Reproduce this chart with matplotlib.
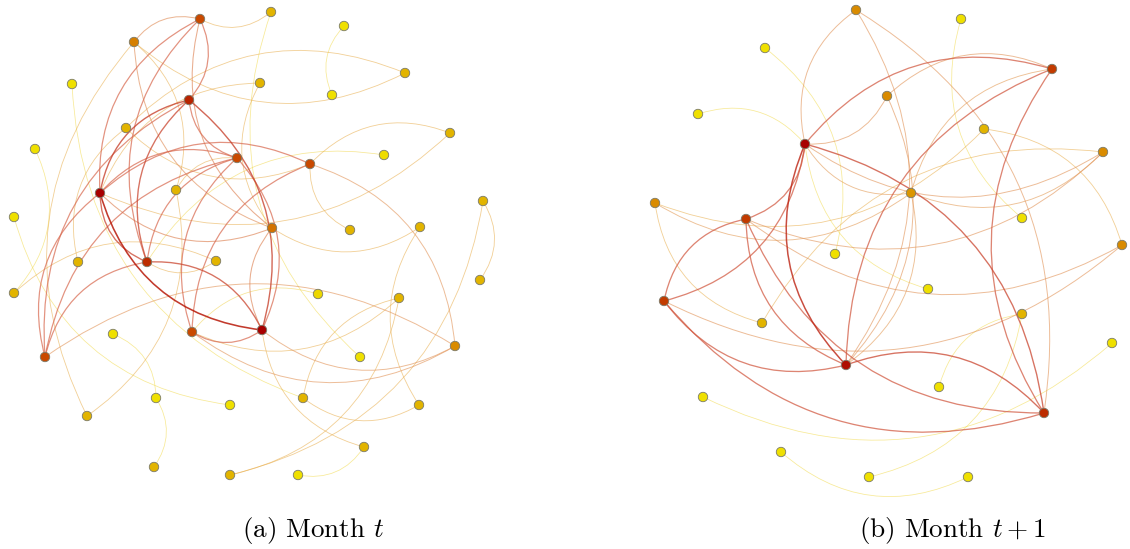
import numpy as np
import matplotlib
matplotlib.use("Agg")
import matplotlib.pyplot as plt
from matplotlib.path import Path
from matplotlib.patches import PathPatch
from matplotlib.colors import LinearSegmentedColormap

# ---------------- Panel (a): Month t ----------------
a_x = [200, 271, 134, 344, 405, 332, 260, 72, 189, 126, 450, 35, 237, 384, 310, 176, 100, 483, 14, 272,
       350, 420, 78, 147, 216, 14, 480, 318, 399, 192, 262, 113, 45, 455, 360, 156, 230, 303, 87, 419,
       364, 154, 230, 298]
a_y = [19, 12, 42, 26, 73, 95, 83, 84, 100, 128, 133, 149, 158, 155, 164, 190, 193, 201, 217, 228,
       230, 227, 262, 262, 261, 293, 280, 294, 298, 332, 330, 334, 357, 346, 357, 398, 405, 398, 416, 405,
       447, 467, 475, 475]
a_level = [0.75, 0.3, 0.55, 0.03, 0.3, 0.03, 0.3, 0.03, 0.88, 0.3, 0.3, 0.03, 0.75, 0.05, 0.75, 0.3, 1.0, 0.3, 0.03, 0.6,
           0.3, 0.3, 0.3, 0.85, 0.3, 0.3, 0.3, 0.08, 0.3, 0.75, 1.0, 0.03, 0.75, 0.5, 0.03, 0.03, 0.03, 0.3, 0.3, 0.3,
           0.3, 0.3, 0.3, 0.03]
a_edges = [(1, 3), (1, 2), (9, 1), (1, 17), (1, 24), (1, 20),
           (16, 3), (3, 39), (3, 5), (3, 20),
           (2, 35), (4, 6), (5, 10), (7, 20), (7, 17),
           (8, 38), (10, 23), (10, 15), (11, 15), (17, 11), (26, 12), (14, 24),
           (15, 30), (15, 21), (34, 15), (15, 17),
           (9, 17), (13, 17), (17, 24), (17, 33), (17, 31), (17, 20),
           (9, 24), (9, 13), (31, 9), (9, 33),
           (13, 24), (31, 13), (13, 33), (13, 30),
           (20, 31), (31, 24), (24, 33), (24, 25),
           (30, 31), (30, 29), (30, 34), (31, 34), (31, 41), (34, 33),
           (27, 18), (43, 18), (43, 29), (22, 40), (28, 30), (36, 32), (42, 36), (38, 40), (44, 41),
           (19, 37), (25, 26), (39, 16), (29, 38), (13, 16), (20, 22)]

# ---------------- Panel (b): Month t+1 ----------------
b_x = [856, 765, 961, 1052, 698, 887, 805, 984, 1103, 911, 655, 746, 1022, 1122, 835, 928, 664, 1022, 762, 1112,
       846, 703, 939, 1044, 781, 869, 968]
b_y = [10, 48, 19, 69, 114, 96, 144, 129, 152, 193, 203, 219, 218, 245, 254, 289, 301, 314, 323, 343,
       365, 397, 387, 413, 452, 477, 477]
b_level = [0.5, 0.03, 0.03, 0.8, 0.03, 0.5, 1.0, 0.3, 0.5, 0.45, 0.5, 0.8, 0.03, 0.5, 0.03, 0.03, 0.8, 0.3, 0.3, 0.03,
           0.95, 0.03, 0.03, 0.85, 0.03, 0.03, 0.03]
b_edges = [(15, 2), (7, 5), (7, 16), (3, 13),
           (4, 7), (12, 7), (17, 7), (7, 21), (24, 7), (7, 6), (1, 7), (7, 10), (7, 9),
           (11, 10), (11, 19), (12, 17), (17, 14), (17, 21), (17, 24),
           (12, 14), (12, 21), (12, 24), (9, 19),
           (4, 21), (21, 1), (21, 6), (21, 10), (24, 21),
           (22, 20), (25, 27), (26, 18), (18, 23),
           (4, 24), (24, 1), (14, 8), (11, 8), (10, 9), (4, 6), (4, 10), (12, 9)]

captions = ["(a) Month $t$", "(b) Month $t+1$"]
caption_x = [313, 952]

cmap = LinearSegmentedColormap.from_list(
    "heat", [(0.0, "#f0e400"), (0.3, "#e2b400"), (0.5, "#d98c00"),
             (0.75, "#c94a00"), (1.0, "#a80000")])
edge_cmap = LinearSegmentedColormap.from_list(
    "heat_e", [(0.0, "#f2dc40"), (0.3, "#e8ac48"), (0.5, "#e2955a"),
               (0.75, "#d86a50"), (1.0, "#b81808")])

RAD = 0.33

plt.rcParams["mathtext.fontset"] = "cm"
fig = plt.figure(figsize=(11.3, 5.49), dpi=100)
ax = fig.add_axes([0, 0, 1, 1])
ax.set_xlim(0, 1130)
ax.set_ylim(549, 0)
ax.axis("off")


def draw_panel(xs, ys, levels, edges):
    xs = np.asarray(xs, float)
    ys = np.asarray(ys, float)
    lv = np.asarray(levels, float)
    order = sorted(edges, key=lambda e: min(lv[e[0] - 1], lv[e[1] - 1]))
    for u, v in order:
        i, j = u - 1, v - 1
        x1, y1, x2, y2 = xs[i], ys[i], xs[j], ys[j]
        mx, my = (x1 + x2) / 2, (y1 + y2) / 2
        dx, dy = x2 - x1, y2 - y1
        cx, cy = mx - RAD * dy, my + RAD * dx
        w = min(lv[i], lv[j])
        path = Path([(x1, y1), (cx, cy), (x2, y2)],
                    [Path.MOVETO, Path.CURVE3, Path.CURVE3])
        ax.add_patch(PathPatch(path, facecolor="none", edgecolor=edge_cmap(w),
                               lw=0.55 + 0.6 * w ** 2, alpha=0.55 + 0.3 * w ** 2, zorder=1))
    ax.scatter(xs, ys, s=46, c=cmap(lv), edgecolors="#7a7a6a", linewidths=0.6, zorder=3)


draw_panel(a_x, a_y, a_level, a_edges)
draw_panel(b_x, b_y, b_level, b_edges)

for cx_, cap in zip(caption_x, captions):
    ax.text(cx_, 530, cap, ha="center", va="center", fontsize=19.5, family="cmr10")

fig.savefig("out.png", dpi=100)
